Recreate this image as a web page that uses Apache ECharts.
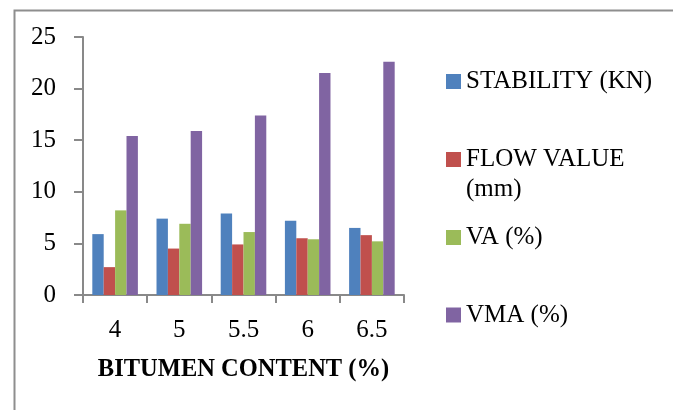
<!DOCTYPE html>
<html>
<head>
<meta charset="utf-8">
<script src="https://cdn.jsdelivr.net/npm/echarts@6/dist/echarts.min.js"></script>
<style>
html,body{margin:0;padding:0;background:#fff;}
#chart{width:673px;height:410px;}
</style>
</head>
<body>
<div id="chart"></div>
<script>
const categories = ['4', '5', '5.5', '6', '6.5'];
const seriesNames = ['STABILITY (KN)', 'FLOW VALUE (mm)', 'VA (%)', 'VMA (%)'];
const stability = [5.9, 7.4, 7.9, 7.2, 6.5];
const flowValue = [2.7, 4.5, 4.9, 5.5, 5.8];
const va = [8.2, 6.9, 6.1, 5.4, 5.2];
const vma = [15.4, 15.9, 17.4, 21.5, 22.6];
const xAxisTitle = 'BITUMEN CONTENT (%)';
const colors = ['#4F81BD', '#C0504D', '#9BBB59', '#8064A2'];

const FONT = '"Liberation Serif", "DejaVu Serif", serif';
const chart = echarts.init(document.getElementById('chart'), null, {renderer: 'canvas'});

const seriesData = [stability, flowValue, va, vma];
const legendTops = [67.5, 114.5, 223.5, 301];

function makeLegend(i) {
  const isFlow = i === 1;
  return {
    show: true,
    left: 446,
    top: legendTops[i],
    padding: 0,
    itemWidth: 15,
    itemHeight: 15,
    itemGap: 0,
    icon: 'rect',
    selectedMode: false,
    data: [seriesNames[i]],
    formatter: isFlow ? function () { return ' \nFLOW VALUE\n(mm)'; } : undefined,
    textStyle: {
      fontFamily: FONT,
      fontSize: 25,
      color: '#000',
      lineHeight: isFlow ? 30 : 28
    }
  };
}

const option = {
  backgroundColor: '#fff',
  animation: false,
  color: colors,
  grid: {left: 83, top: 37, width: 321, height: 258, containLabel: false},
  legend: [0, 1, 2, 3].map(makeLegend),
  xAxis: {
    type: 'category',
    data: categories,
    name: xAxisTitle,
    nameLocation: 'middle',
    nameGap: 62,
    nameTextStyle: {fontFamily: FONT, fontSize: 24.5, fontWeight: 'bold', color: '#000'},
    axisLine: {lineStyle: {color: '#898989', width: 2}},
    axisTick: {show: true, length: 8, lineStyle: {color: '#898989', width: 2}},
    axisLabel: {fontFamily: FONT, fontSize: 25, color: '#000', margin: 23},
    splitLine: {show: false}
  },
  yAxis: {
    type: 'value',
    min: 0,
    max: 25,
    interval: 5,
    axisLine: {show: true, lineStyle: {color: '#898989', width: 2}},
    axisTick: {show: true, length: 9, lineStyle: {color: '#898989', width: 2}},
    axisLabel: {fontFamily: FONT, fontSize: 25, color: '#000', margin: 27},
    splitLine: {show: false}
  },
  series: seriesNames.map((name, i) => ({
    name: name,
    type: 'bar',
    data: seriesData[i],
    barGap: '0%',
    barCategoryGap: '29%',
    itemStyle: {color: colors[i]}
  })),
  graphic: [{
    type: 'rect',
    left: 12,
    top: 8,
    shape: {x: 0, y: 0, width: 700, height: 500},
    style: {fill: 'none', stroke: '#8e8e8e', lineWidth: 2},
    silent: true,
    z: -10
  }]
};
chart.setOption(option);
</script>
</body>
</html>
